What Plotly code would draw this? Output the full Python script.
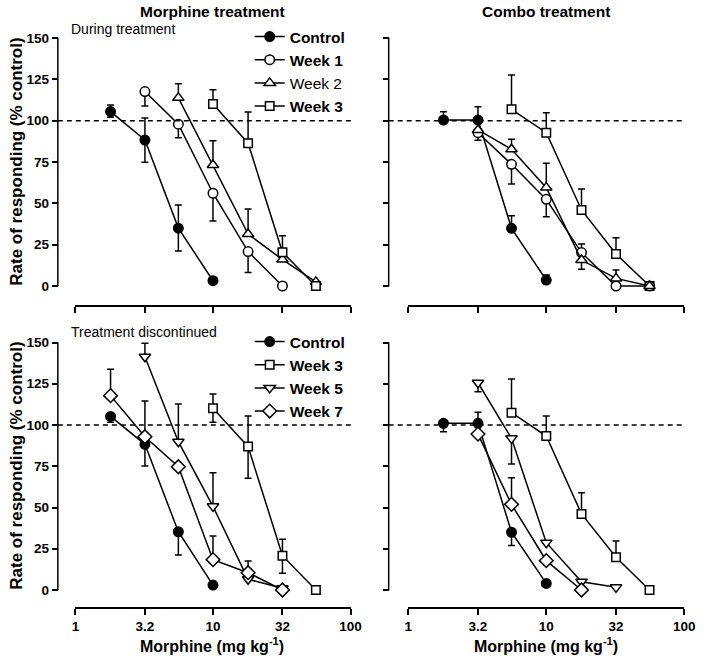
import plotly.graph_objects as go

# ---------------- data ----------------
dose_ticks = [1, 3.2, 10, 32, 100]
dose_tick_labels = ["1", "3.2", "10", "32", "100"]
resp_ticks = [0, 25, 50, 75, 100, 125, 150]
reference_level = 100

# Top-left: Morphine treatment, during treatment
tl_control_x = [1.8, 3.2, 5.6, 10]
tl_control_y = [105.5, 88.3, 35.0, 3.2]
tl_control_up = [4.0, 13.3, 14.0, 0]
tl_control_dn = [3.5, 13.5, 13.8, 0]

tl_week1_x = [3.2, 5.6, 10, 18, 32]
tl_week1_y = [117.6, 97.9, 56.1, 20.8, 0]
tl_week1_up = [0, 0, 0, 0, 0]
tl_week1_dn = [8.8, 8.2, 16.8, 12.7, 0]

tl_week2_x = [5.6, 10, 18, 32, 56]
tl_week2_y = [113.8, 73.2, 31.4, 16.0, 2.5]
tl_week2_up = [8.5, 14.6, 15.2, 0, 0]
tl_week2_dn = [0, 0, 0, 0, 0]

tl_week3_x = [10, 18, 32, 56]
tl_week3_y = [110.1, 86.4, 20.4, 0]
tl_week3_up = [8.6, 18.9, 10.0, 0]
tl_week3_dn = [0, 0, 0, 0]

# Top-right: Combo treatment, during treatment
tr_control_x = [1.8, 3.2, 5.6, 10]
tr_control_y = [100.4, 100.4, 34.9, 3.6]
tr_control_up = [5.0, 8.0, 7.6, 3.0]
tr_control_dn = [0, 0, 0, 0]

tr_week1_x = [3.2, 5.6, 10, 18, 32, 56]
tr_week1_y = [92.7, 73.6, 52.4, 20.2, 0, 0]
tr_week1_up = [0, 0, 0, 5.2, 0, 0]
tr_week1_dn = [4.5, 11.9, 10.5, 0, 0, 0]

tr_week2_x = [3.2, 5.6, 10, 18, 32, 56]
tr_week2_y = [94.4, 82.7, 59.5, 15.7, 4.6, 0]
tr_week2_up = [0, 6.0, 14.7, 0, 5.1, 0]
tr_week2_dn = [0, 0, 0, 5.6, 0, 0]

tr_week3_x = [5.6, 10, 18, 32, 56]
tr_week3_y = [106.9, 92.7, 46.0, 19.4, 0]
tr_week3_up = [20.7, 12.1, 12.7, 9.8, 0]
tr_week3_dn = [0, 0, 0, 0, 0]

# Bottom-left: Morphine treatment, treatment discontinued
bl_control_x = [1.8, 3.2, 5.6, 10]
bl_control_y = [105.2, 88.3, 35.3, 3.0]
bl_control_up = [0, 0, 0, 0]
bl_control_dn = [3.5, 13.1, 14.1, 0]

bl_week3_x = [10, 18, 32, 56]
bl_week3_y = [110.1, 86.9, 20.8, 0]
bl_week3_up = [8.7, 18.6, 9.9, 0]
bl_week3_dn = [8.5, 19.2, 10.7, 0]

bl_week5_x = [3.2, 5.6, 10, 18, 32]
bl_week5_y = [141.4, 89.9, 50.7, 6.5, 1.0]
bl_week5_up = [8.1, 22.8, 20.4, 0, 0]
bl_week5_dn = [0, 0, 0, 0, 0]

bl_week7_x = [1.8, 3.2, 5.6, 10, 18, 32]
bl_week7_y = [117.8, 92.9, 74.7, 18.4, 10.5, 0]
bl_week7_up = [16.0, 21.6, 0, 14.4, 7.1, 0]
bl_week7_dn = [0, 0, 0, 0, 0, 0]

# Bottom-right: Combo treatment, treatment discontinued
br_control_x = [1.8, 3.2, 5.6, 10]
br_control_y = [101.0, 101.0, 35.0, 4.0]
br_control_up = [0, 6.7, 0, 0]
br_control_dn = [5.1, 0, 8.1, 0]

br_week3_x = [5.6, 10, 18, 32, 56]
br_week3_y = [107.5, 93.3, 46.1, 19.8, 0]
br_week3_up = [20.4, 12.2, 12.9, 9.9, 0]
br_week3_dn = [0, 0, 0, 0, 0]

br_week5_x = [3.2, 5.6, 10, 18, 32]
br_week5_y = [125.6, 91.9, 28.7, 5.0, 1.6]
br_week5_up = [0, 0, 0, 0, 0]
br_week5_dn = [5.4, 15.5, 0, 0, 0]

br_week7_x = [3.2, 5.6, 10, 18]
br_week7_y = [94.5, 51.9, 17.8, 0]
br_week7_up = [0, 16.1, 0, 0]
br_week7_dn = [0, 0, 0, 0]

# ---------------- styling / layout ----------------
W, H = 709, 658
FONT = "Liberation Sans, Arial, Helvetica, sans-serif"


def fx(p):
    return p / W


def fy(p):
    return 1 - p / H


MARK = {
    "Control": dict(symbol="circle", color="black", size=9.5),
    "Week 1": dict(symbol="circle", color="white", size=9.5),
    "Week 2": dict(symbol="triangle-up", color="white", size=10),
    "Week 3": dict(symbol="square", color="white", size=8.5),
    "Week 5": dict(symbol="triangle-down", color="white", size=10),
    "Week 7": dict(symbol="diamond", color="white", size=10.5),
}

# panel geometry in pixels: x-domain, y of value 0, y of value 150, x-axis line y, y-axis line x
PANELS = {
    "tl": dict(xa="x", ya="y", xd=(73, 354), y0=286, y150=38, xline=306, yline=55, labels_x=False, labels_y=True),
    "tr": dict(xa="x2", ya="y2", xd=(413, 695), y0=286, y150=38, xline=306, yline=393, labels_x=False, labels_y=False),
    "bl": dict(xa="x3", ya="y3", xd=(73, 354), y0=590, y150=342.5, xline=608, yline=55, labels_x=True, labels_y=True),
    "br": dict(xa="x4", ya="y4", xd=(413, 695), y0=590, y150=342.5, xline=608, yline=393, labels_x=True, labels_y=False),
}

SERIES = [
    ("tl", "Control", "<b>Control</b>", "legend", tl_control_x, tl_control_y, tl_control_up, tl_control_dn),
    ("tl", "Week 1", "<b>Week 1</b>", "legend", tl_week1_x, tl_week1_y, tl_week1_up, tl_week1_dn),
    ("tl", "Week 2", "Week 2", "legend", tl_week2_x, tl_week2_y, tl_week2_up, tl_week2_dn),
    ("tl", "Week 3", "<b>Week 3</b>", "legend", tl_week3_x, tl_week3_y, tl_week3_up, tl_week3_dn),
    ("tr", "Control", None, None, tr_control_x, tr_control_y, tr_control_up, tr_control_dn),
    ("tr", "Week 3", None, None, tr_week3_x, tr_week3_y, tr_week3_up, tr_week3_dn),
    ("tr", "Week 1", None, None, tr_week1_x, tr_week1_y, tr_week1_up, tr_week1_dn),
    ("tr", "Week 2", None, None, tr_week2_x, tr_week2_y, tr_week2_up, tr_week2_dn),
    ("bl", "Control", "<b>Control</b>", "legend2", bl_control_x, bl_control_y, bl_control_up, bl_control_dn),
    ("bl", "Week 3", "<b>Week 3</b>", "legend2", bl_week3_x, bl_week3_y, bl_week3_up, bl_week3_dn),
    ("bl", "Week 5", "<b>Week 5</b>", "legend2", bl_week5_x, bl_week5_y, bl_week5_up, bl_week5_dn),
    ("bl", "Week 7", "<b>Week 7</b>", "legend2", bl_week7_x, bl_week7_y, bl_week7_up, bl_week7_dn),
    ("br", "Control", None, None, br_control_x, br_control_y, br_control_up, br_control_dn),
    ("br", "Week 3", None, None, br_week3_x, br_week3_y, br_week3_up, br_week3_dn),
    ("br", "Week 5", None, None, br_week5_x, br_week5_y, br_week5_up, br_week5_dn),
    ("br", "Week 7", None, None, br_week7_x, br_week7_y, br_week7_up, br_week7_dn),
]

fig = go.Figure()

for panel, group, label, legend, xs, ys, up, dn in SERIES:
    p = PANELS[panel]
    m = MARK[group]
    kw = dict(showlegend=False)
    if label is not None:
        kw = dict(showlegend=True, name=label, legend=legend)
    fig.add_trace(go.Scatter(
        x=xs, y=ys, mode="lines+markers",
        xaxis=p["xa"], yaxis=p["ya"],
        line=dict(color="black", width=1.5),
        marker=dict(symbol=m["symbol"], size=m["size"], color=m["color"],
                    line=dict(color="black", width=1.5)),
        error_y=dict(type="data", symmetric=False, array=up, arrayminus=dn,
                     color="black", thickness=1.5, width=3.5),
        cliponaxis=False,
        **kw,
    ))

layout = dict(
    width=W, height=H,
    margin=dict(l=0, r=0, t=0, b=0),
    paper_bgcolor="white", plot_bgcolor="rgba(0,0,0,0)",
    font=dict(family=FONT, color="black", size=13),
    shapes=[], annotations=[],
)

YMIN, YMAX = -5, 155
for key, p in PANELS.items():
    xsuf = p["xa"][1:]
    ysuf = p["ya"][1:]
    scale = (p["y0"] - p["y150"]) / 150.0
    top_px = p["y0"] - YMAX * scale
    bot_px = p["y0"] - YMIN * scale
    layout["xaxis" + xsuf] = dict(
        type="log", range=[0, 2], domain=[fx(p["xd"][0]), fx(p["xd"][1])],
        anchor="free", position=fy(p["xline"]),
        tickmode="array", tickvals=dose_ticks, ticktext=dose_tick_labels,
        showticklabels=p["labels_x"], ticks="outside", ticklen=6, tickwidth=1.5,
        tickcolor="black", showline=True, linewidth=1.5, linecolor="black",
        showgrid=False, zeroline=False,
        tickfont=dict(family=FONT, size=13.5, weight="bold", color="black"),
    )
    layout["yaxis" + ysuf] = dict(
        range=[YMIN, YMAX], domain=[fy(bot_px), fy(top_px)],
        anchor="free", position=fx(p["yline"]),
        tickmode="array", tickvals=resp_ticks,
        showticklabels=p["labels_y"], ticks="outside", ticklen=6, tickwidth=1.5,
        tickcolor="black", showline=False, showgrid=False, zeroline=False,
        tickfont=dict(family=FONT, size=13.5, weight="bold", color="black"),
    )
    # y-axis spine from 0 to 150
    layout["shapes"].append(dict(
        type="line", xref="paper", yref=p["ya"],
        x0=fx(p["yline"]), x1=fx(p["yline"]), y0=resp_ticks[0], y1=resp_ticks[-1],
        line=dict(color="black", width=1.5),
    ))
    # dashed reference line at 100 %
    layout["shapes"].append(dict(
        type="line", xref="paper", yref=p["ya"],
        x0=fx(p["yline"]), x1=fx(p["xd"][1] + 1), y0=reference_level, y1=reference_level,
        line=dict(color="black", width=1.5, dash="5px,4px"),
    ))

legend_common = dict(
    xanchor="left", yanchor="top", bgcolor="rgba(0,0,0,0)",
    font=dict(family=FONT, size=15.5, color="black"),
    itemwidth=30, tracegroupgap=0,
)
layout["legend"] = dict(x=fx(251), y=fy(20), **legend_common)
layout["legend2"] = dict(x=fx(251), y=fy(325), **legend_common)

ann = layout["annotations"]


def text(x, y, s, size=14, bold=True, angle=0, xanchor="center", yanchor="middle"):
    ann.append(dict(
        x=fx(x), y=fy(y), xref="paper", yref="paper", text=s, showarrow=False,
        xanchor=xanchor, yanchor=yanchor, textangle=angle,
        font=dict(family=FONT, size=size, color="black", weight="bold" if bold else "normal"),
    ))


text(213, 11, "Morphine treatment", 15.5)
text(554, 11, "Combo treatment", 15.5)
text(66, 29, "During treatment", 14, bold=False, xanchor="left")
text(66, 332, "Treatment discontinued", 14, bold=False, xanchor="left")
text(12, 162, "Rate of responding (% control)", 17, angle=-90)
text(12, 466, "Rate of responding (% control)", 17, angle=-90)
text(213, 657, "Morphine (mg kg<sup>-1</sup>)", 16, yanchor="bottom")
text(554, 657, "Morphine (mg kg<sup>-1</sup>)", 16, yanchor="bottom")

fig.update_layout(**layout)
fig.write_html(
    "out.html",
    config={"displayModeBar": False},
    post_script="document.body.style.margin='0px';",
)
